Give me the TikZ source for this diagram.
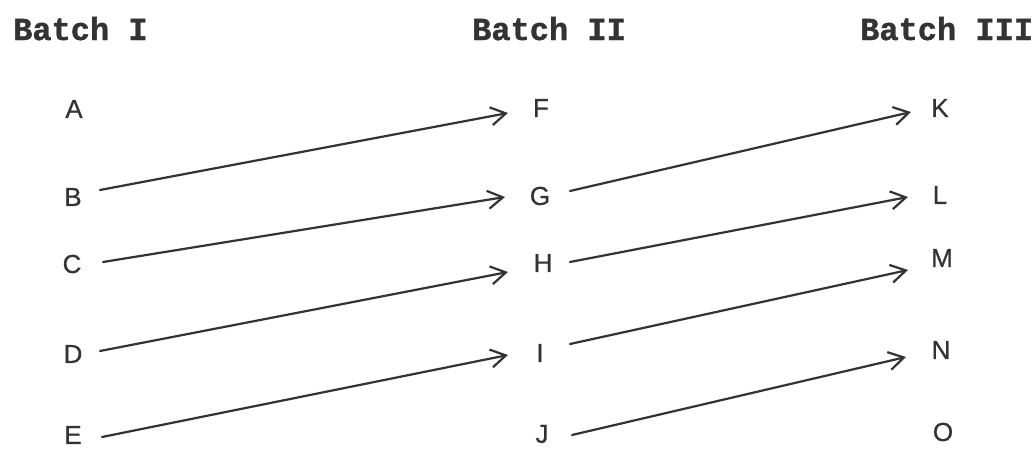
\documentclass[tikz,border=0pt]{standalone}
\usepackage{fontspec}
\setmainfont{Liberation Sans}
\newfontfamily\letterfont[FakeBold=0.6]{Liberation Sans}
\newfontfamily\headfont[FakeBold=1.2]{Liberation Mono}
\usetikzlibrary{arrows.meta,calc}
\definecolor{ink}{HTML}{333333}
\begin{document}
\begin{tikzpicture}[x=1pt,y=-1pt,
  letter/.style={inner sep=0pt,text=ink,font=\letterfont\fontsize{26}{26}\selectfont},
  header/.style={inner sep=0pt,anchor=base west,text=ink,font=\headfont\bfseries\fontsize{32}{32}\selectfont},
  link/.style={draw=ink,line width=2.2pt,line cap=round,
    -{Straight Barb[length=15pt,width=18pt,line width=2.2pt]}}]
\fill[white] (0,0) rectangle (1033,450);
\useasboundingbox (0,0) rectangle (1033,450);
% headers
\node[header] (h1) at (13,40) {Batch I};
\node[header] (h2) at (472,40) {Batch II};
\node[header] (h3) at (860,40) {Batch III};
% batch I
\node[letter] (A) at (74,109) {A};
\node[letter] (B) at (73,197) {B};
\node[letter] (C) at (72,264) {C};
\node[letter] (D) at (73,354) {D};
\node[letter] (E) at (73,435) {E};
% batch II
\node[letter] (F) at (541,108) {F};
\node[letter] (G) at (540,196) {G};
\node[letter] (H) at (543,263) {H};
\node[letter] (I) at (540,353) {I};
\node[letter] (J) at (542,434) {J};
% batch III
\node[letter] (K) at (940,108) {K};
\node[letter] (L) at (940,195) {L};
\node[letter] (M) at (942,258) {M};
\node[letter] (N) at (941,350) {N};
\node[letter] (O) at (943,432) {O};
% connectors
\draw[link] ($(B)+(27,-7)$) -- ($(F)+(-33,5)$);
\draw[link] ($(C)+(31,-2)$) -- ($(G)+(-35,1)$);
\draw[link] ($(D)+(27,-3)$) -- ($(H)+(-35,9)$);
\draw[link] ($(E)+(29,2)$) -- ($(I)+(-32,2)$);
\draw[link] ($(G)+(30,-5)$) -- ($(K)+(-29,4)$);
\draw[link] ($(H)+(27,-1)$) -- ($(L)+(-32,2)$);
\draw[link] ($(I)+(30,-9)$) -- ($(M)+(-34,12)$);
\draw[link] ($(J)+(30,1)$) -- ($(N)+(-35,7)$);
\end{tikzpicture}
\end{document}
